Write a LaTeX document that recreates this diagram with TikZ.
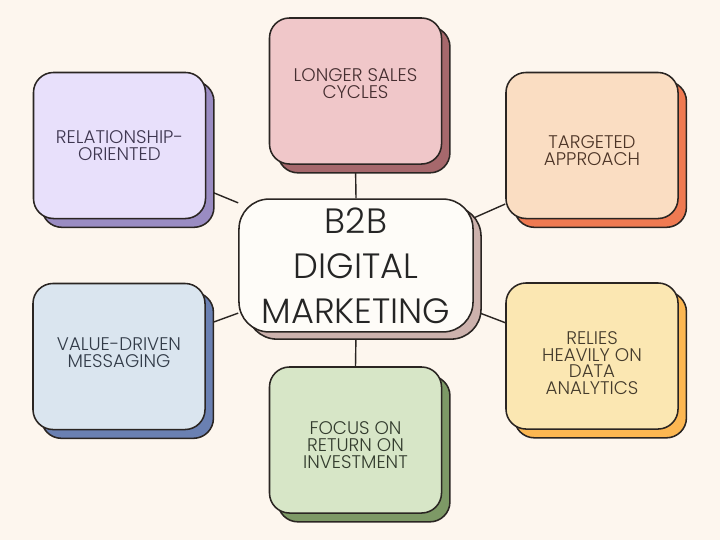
\documentclass[tikz,border=0pt]{standalone}
\usepackage{fontspec}
\setmainfont{Poppins Light}
\usetikzlibrary{shadows,backgrounds}

\definecolor{bgcream}{HTML}{FDF6EE}
\definecolor{inkline}{HTML}{2A2522}
\definecolor{relfront}{HTML}{E8E0FB}
\definecolor{relback}{HTML}{9A8CC2}
\definecolor{relink}{HTML}{3E3650}
\definecolor{salesfront}{HTML}{F0C7C9}
\definecolor{salesback}{HTML}{A6686C}
\definecolor{salesink}{HTML}{452E30}
\definecolor{tgtfront}{HTML}{FADDC2}
\definecolor{tgtback}{HTML}{EF7A52}
\definecolor{tgtink}{HTML}{4C3426}
\definecolor{datafront}{HTML}{FBE7B2}
\definecolor{databack}{HTML}{FCB752}
\definecolor{dataink}{HTML}{443B2C}
\definecolor{roifront}{HTML}{D7E6C7}
\definecolor{roiback}{HTML}{7D9966}
\definecolor{roiink}{HTML}{333C2E}
\definecolor{valfront}{HTML}{DAE5EF}
\definecolor{valback}{HTML}{6A80B2}
\definecolor{valink}{HTML}{323B48}
\definecolor{corefront}{HTML}{FEFCF8}
\definecolor{coreback}{HTML}{CDB2AD}
\definecolor{coreink}{HTML}{252525}

\begin{document}
\begin{tikzpicture}[x=0.025cm, y=-0.025cm]
    \tikzstyle{bubble}=[rectangle, rounded corners=0.5cm, draw=inkline, line width=1.1pt, minimum width=4.3cm, minimum height=3.65cm, inner sep=2pt, align=center, font=\fontsize{13}{12}\selectfont]
    \tikzstyle{rel bubble}=[bubble, fill=relfront, text=relink, general shadow={fill=relback, draw=inkline, shadow xshift=0.21cm, shadow yshift=-0.22cm}]
    \tikzstyle{sales bubble}=[bubble, fill=salesfront, text=salesink, general shadow={fill=salesback, draw=inkline, shadow xshift=0.21cm, shadow yshift=-0.22cm}]
    \tikzstyle{tgt bubble}=[bubble, fill=tgtfront, text=tgtink, general shadow={fill=tgtback, draw=inkline, shadow xshift=0.21cm, shadow yshift=-0.22cm}]
    \tikzstyle{data bubble}=[bubble, fill=datafront, text=dataink, general shadow={fill=databack, draw=inkline, shadow xshift=0.21cm, shadow yshift=-0.22cm}]
    \tikzstyle{roi bubble}=[bubble, fill=roifront, text=roiink, general shadow={fill=roiback, draw=inkline, shadow xshift=0.21cm, shadow yshift=-0.22cm}]
    \tikzstyle{val bubble}=[bubble, fill=valfront, text=valink, general shadow={fill=valback, draw=inkline, shadow xshift=0.21cm, shadow yshift=-0.22cm}]
    \tikzstyle{core bubble}=[bubble, rounded corners=0.75cm, minimum width=5.85cm, minimum height=3.32cm, fill=corefront, text=coreink, font=\fontsize{25}{32}\selectfont, general shadow={fill=coreback, draw=inkline, shadow xshift=0.2cm, shadow yshift=-0.18cm}]
    \tikzstyle{link}=[draw=inkline, line width=1pt]

    \useasboundingbox (0,0) rectangle (720,540);

    % Draw the centre node
    \node[core bubble] (core) at (356,265.5) {B2B\\DIGITAL\\MARKETING};

    % Draw the six outer nodes (trailing gaps nudge the text up or down)
    \node[rel bubble] (rel) at (119.5,145.5) {RELATIONSHIP-\\ORIENTED};
    \node[sales bubble] (sales) at (355.5,91) {LONGER SALES\\CYCLES\\[-0.07cm]};
    \node[tgt bubble] (tgt) at (592,145.5) {TARGETED\\APPROACH\\[-0.67cm]};
    \node[data bubble] (data) at (592,356) {RELIES\\HEAVILY ON\\DATA\\ANALYTICS\\[-0.77cm]};
    \node[roi bubble] (roi) at (355.5,440) {FOCUS ON\\RETURN ON\\INVESTMENT\\[-0.67cm]};
    \node[val bubble] (val) at (119,356.5) {VALUE-DRIVEN\\MESSAGING\\[-0.22cm]};

    % Background and the links behind the boxes
    \begin{pgfonlayer}{background}
      \fill[bgcream] (0,0) rectangle (720,540);
      \path[link] (core.north) edge (sales.south);
      \path[link] (core.152) edge (rel.333);
      \path[link] (core.22) edge (tgt.214);
      \path[link] (core.339) edge (data.159);
      \path[link] (core.202) edge (val.20);
      \path[link] (core.south) edge (roi.north);
    \end{pgfonlayer}
\end{tikzpicture}
\end{document}
